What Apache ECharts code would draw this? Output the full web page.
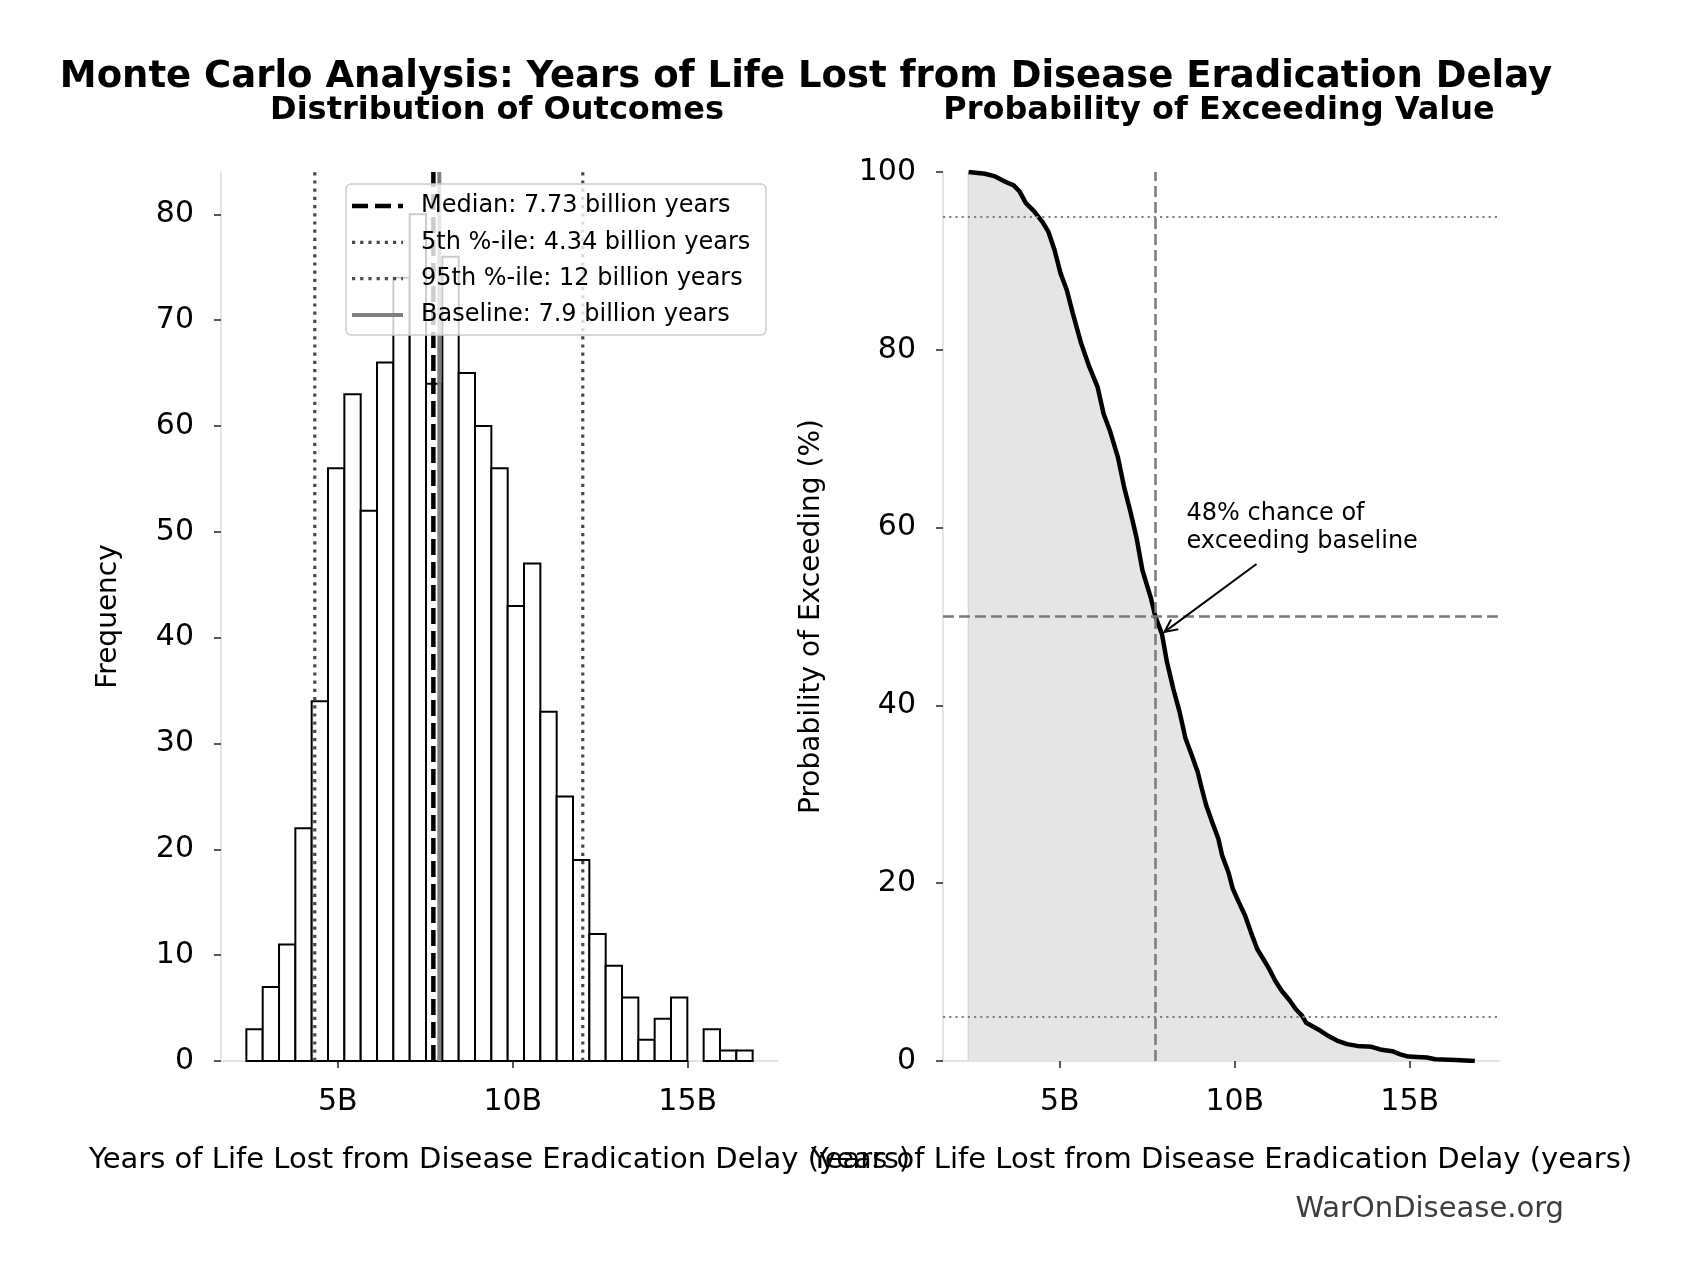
<!DOCTYPE html>
<html>
<head>
<meta charset="utf-8">
<script src="https://cdn.jsdelivr.net/npm/echarts@6/dist/echarts.min.js"></script>
<style>
html, body { margin: 0; padding: 0; background: #fff; }
#chart { width: 1684px; height: 1280px; }
</style>
</head>
<body>
<div id="chart"></div>
<script>
// histogram of 1000 runs, 31 equal bins (billions of years)
var binStart = 2.385;
var binWidth = 0.4668;
var binCounts = [3, 7, 11, 22, 34, 56, 63, 52, 66, 74, 80, 64, 76, 65, 60, 56,
                 43, 47, 33, 25, 19, 12, 9, 6, 2, 4, 6, 0, 3, 1, 1];

// summary values
var median = 7.73;
var p5 = 4.34;
var p95 = 12;
var baseline = 7.9;

// exceedance curve: x (billions), % above x
var exceedX = [2.39, 2.86, 3.15, 3.44, 3.68, 3.85, 4.03, 4.26, 4.50, 4.67, 4.85, 5.02, 5.20, 5.37,
               5.61, 5.84, 6.08, 6.25, 6.43, 6.66, 6.84, 7.01, 7.19, 7.36, 7.60, 7.73, 7.92, 8.06,
               8.24, 8.42, 8.59, 8.77, 8.94, 9.06, 9.18, 9.35, 9.53, 9.64, 9.82, 9.94, 10.11, 10.29,
               10.46, 10.64, 10.81, 10.99, 11.16, 11.34, 11.57, 11.75, 11.92, 12.04, 12.27, 12.45,
               12.68, 12.92, 13.21, 13.50, 13.91, 14.15, 14.50, 14.73, 14.96, 15.49, 15.73, 16.31, 16.86];
var exceedPct = [100, 99.8, 99.5, 98.9, 98.5, 97.8, 96.5, 95.6, 94.4, 93.3, 91.2, 88.6, 86.7, 84.1,
                 80.7, 78.1, 75.8, 72.8, 70.9, 67.9, 64.5, 61.9, 58.9, 55.2, 52.1, 50.0, 48.0, 44.9,
                 41.9, 39.3, 36.3, 34.4, 32.5, 30.6, 28.8, 26.9, 25.0, 23.1, 21.2, 19.4, 17.9, 16.4,
                 14.5, 12.6, 11.5, 10.3, 9.0, 7.9, 6.8, 5.8, 5.1, 4.3, 3.8, 3.4,
                 2.8, 2.3, 1.9, 1.7, 1.6, 1.3, 1.1, 0.75, 0.5, 0.4, 0.2, 0.1, 0.0];

// axes
var xLimits = [1.66, 17.58];
var xTicks = [5, 10, 15];
var yTicksLeft = [0, 10, 20, 30, 40, 50, 60, 70, 80];
var yMaxLeft = 84;
var yTicksRight = [0, 20, 40, 60, 80, 100];

var xLabel = 'Years of Life Lost from Disease Eradication Delay (years)';
var annotText = '48% chance of\nexceeding baseline';
var annotAt = [8.62, 60];
var annotTarget = [baseline, 48];
var annotTail = [10.62, 55.9];

var FONT = '"DejaVu Sans", Verdana, sans-serif';

var histData = binCounts.map(function (c, i) {
  return [binStart + i * binWidth, binStart + (i + 1) * binWidth, c];
});
var curveData = exceedX.map(function (x, i) { return [x, exceedPct[i]]; });

var legendNames = [
  'Median: ' + median + ' billion years',
  '5th %-ile: ' + p5 + ' billion years',
  '95th %-ile: ' + p95 + ' billion years',
  'Baseline: ' + baseline + ' billion years'
];
var legendStyles = [
  { stroke: '#000', lineWidth: 4.5, lineDash: [16, 7] },
  { stroke: '#4a4a4a', lineWidth: 3.2, lineDash: [3.2, 5] },
  { stroke: '#4a4a4a', lineWidth: 3.2, lineDash: [3.2, 5] },
  { stroke: '#808080', lineWidth: 4 }
];

function xAxisCfg(idx) {
  return {
    type: 'value', gridIndex: idx, min: xLimits[0], max: xLimits[1],
    name: xLabel, nameLocation: 'middle', nameGap: 85,
    nameTextStyle: { fontSize: 29, color: '#000', fontFamily: FONT },
    axisLine: { show: true, onZero: false, lineStyle: { color: '#dcdcdc', width: 1.5 } },
    axisTick: { show: true, length: 7, customValues: xTicks, lineStyle: { color: '#222', width: 1.5 } },
    axisLabel: { customValues: xTicks, margin: 26, fontSize: 30, color: '#000', fontFamily: FONT,
                 formatter: function (v) { return v + 'B'; } },
    splitLine: { show: false }
  };
}
function yAxisCfg(idx, max, ticks, name, gap) {
  return {
    type: 'value', gridIndex: idx, min: 0, max: max,
    name: name, nameLocation: 'middle', nameGap: gap, nameRotate: 90,
    nameTextStyle: { fontSize: 28, color: '#000', fontFamily: FONT },
    axisLine: { show: true, lineStyle: { color: '#dcdcdc', width: 1.5 } },
    axisTick: { show: true, length: 7, customValues: ticks, lineStyle: { color: '#222', width: 1.5 } },
    axisLabel: { customValues: ticks, margin: 27, fontSize: 30, color: '#000', fontFamily: FONT },
    splitLine: { show: false }
  };
}
function vline(x, top, style, z) {
  return {
    type: 'line', xAxisIndex: 0, yAxisIndex: 0, data: [[x, 0], [x, top]],
    symbol: 'none', silent: true, z: z,
    lineStyle: { color: style.stroke, width: style.lineWidth, type: style.lineDash || 'solid', cap: 'butt' }
  };
}

var chart = echarts.init(document.getElementById('chart'), null, { renderer: 'canvas' });

var graphics = [
  { type: 'text', id: 'sup', x: 806, y: 77, z: 10,
    style: { text: 'Monte Carlo Analysis: Years of Life Lost from Disease Eradication Delay',
             fontSize: 37, fontWeight: 'bold', fontFamily: FONT, fill: '#000', align: 'center', verticalAlign: 'middle' } },
  { type: 'text', id: 't1', x: 497, y: 111, z: 10,
    style: { text: 'Distribution of Outcomes', fontSize: 32, fontWeight: 'bold', fontFamily: FONT,
             fill: '#000', align: 'center', verticalAlign: 'middle' } },
  { type: 'text', id: 't2', x: 1219, y: 111, z: 10,
    style: { text: 'Probability of Exceeding Value', fontSize: 32, fontWeight: 'bold', fontFamily: FONT,
             fill: '#000', align: 'center', verticalAlign: 'middle' } },
  { type: 'text', id: 'wm', x: 1564, y: 1209, z: 10,
    style: { text: 'WarOnDisease.org', fontSize: 29, fontFamily: FONT, fill: '#3d3d3d',
             align: 'right', verticalAlign: 'middle' } },
  { type: 'rect', id: 'legbox', z: 20,
    shape: { x: 346, y: 184, width: 420, height: 151, r: 5 },
    style: { fill: 'rgba(255,255,255,0.8)', stroke: '#cccccc', lineWidth: 1.5 } }
];
legendNames.forEach(function (name, i) {
  var y = 206 + i * 36.3;
  var st = legendStyles[i];
  graphics.push({ type: 'line', id: 'legl' + i, z: 21,
    shape: { x1: 352, y1: y, x2: 403, y2: y },
    style: { stroke: st.stroke, lineWidth: st.lineWidth, lineDash: st.lineDash || null, lineCap: 'butt' } });
  graphics.push({ type: 'text', id: 'legt' + i, z: 21, x: 421, y: y,
    style: { text: name, fontSize: 24, fontFamily: FONT, fill: '#000', align: 'left', verticalAlign: 'middle' } });
});

var option = {
  animation: false,
  backgroundColor: '#fff',
  grid: [
    { left: 221, top: 172, width: 557, height: 889 },
    { left: 943, top: 172, width: 557, height: 889 }
  ],
  xAxis: [xAxisCfg(0), xAxisCfg(1)],
  yAxis: [
    yAxisCfg(0, yMaxLeft, yTicksLeft, 'Frequency', 98),
    yAxisCfg(1, 100, yTicksRight, 'Probability of Exceeding (%)', 117)
  ],
  graphic: graphics,
  series: [
    {
      type: 'custom', xAxisIndex: 0, yAxisIndex: 0, data: histData, z: 2,
      encode: { x: [0, 1], y: 2 },
      renderItem: function (params, api) {
        var n = api.value(2);
        if (!n) return null;
        var a = api.coord([api.value(0), n]);
        var b = api.coord([api.value(1), 0]);
        return { type: 'rect', shape: { x: a[0], y: a[1], width: b[0] - a[0], height: b[1] - a[1] },
                 style: { fill: '#fff', stroke: '#000', lineWidth: 2 } };
      }
    },
    vline(median, yMaxLeft, legendStyles[0], 3),
    vline(p5, yMaxLeft, legendStyles[1], 3),
    vline(p95, yMaxLeft, legendStyles[2], 3),
    vline(baseline, yMaxLeft, legendStyles[3], 4),
    // left edge of the filled area
    {
      type: 'line', xAxisIndex: 1, yAxisIndex: 1, data: [[exceedX[0], 0], [exceedX[0], 100]],
      symbol: 'none', silent: true, z: 2, lineStyle: { color: '#c4c4c4', width: 1.5 }
    },
    {
      type: 'line', xAxisIndex: 1, yAxisIndex: 1, data: curveData, symbol: 'none', z: 3,
      lineStyle: { color: '#000', width: 4.5 },
      areaStyle: { color: '#e5e5e5', opacity: 1 },
      markLine: {
        silent: true, symbol: 'none', label: { show: false }, animation: false,
        data: [
          { yAxis: 95, lineStyle: { color: '#808080', width: 2.2, type: [2.2, 4] } },
          { yAxis: 5, lineStyle: { color: '#808080', width: 2.2, type: [2.2, 4] } },
          { yAxis: 50, lineStyle: { color: '#7a7a7a', width: 2.5, type: [11, 5] } },
          { xAxis: median, lineStyle: { color: '#7a7a7a', width: 2.5, type: [11, 5] } }
        ]
      }
    }
  ]
};
chart.setOption(option);

// annotation with arrow in the right panel
var tip = chart.convertToPixel({ gridIndex: 1 }, annotTarget);
var tail = chart.convertToPixel({ gridIndex: 1 }, annotTail);
var at = chart.convertToPixel({ gridIndex: 1 }, annotAt);
var dx = tip[0] - tail[0], dy = tip[1] - tail[1];
var len = Math.sqrt(dx * dx + dy * dy);
var ux = dx / len, uy = dy / len;
var end = [tip[0] - ux * 4, tip[1] - uy * 4];
var hl = 14, ang = 0.45;
function rot(x, y, a) { return [x * Math.cos(a) - y * Math.sin(a), x * Math.sin(a) + y * Math.cos(a)]; }
var h1 = rot(-ux * hl, -uy * hl, ang), h2 = rot(-ux * hl, -uy * hl, -ang);

chart.setOption({
  graphic: [
    { type: 'text', id: 'annot', x: at[0], y: at[1], z: 15,
      style: { text: annotText, fontSize: 24, lineHeight: 28, fontFamily: FONT, fill: '#000',
               align: 'left', verticalAlign: 'middle' } },
    { type: 'line', id: 'arr', z: 15,
      shape: { x1: tail[0], y1: tail[1], x2: end[0], y2: end[1] },
      style: { stroke: '#000', lineWidth: 2 } },
    { type: 'polyline', id: 'arrh', z: 15,
      shape: { points: [[end[0] + h1[0], end[1] + h1[1]], end, [end[0] + h2[0], end[1] + h2[1]]] },
      style: { stroke: '#000', lineWidth: 2, fill: null } }
  ]
});
</script>
</body>
</html>
